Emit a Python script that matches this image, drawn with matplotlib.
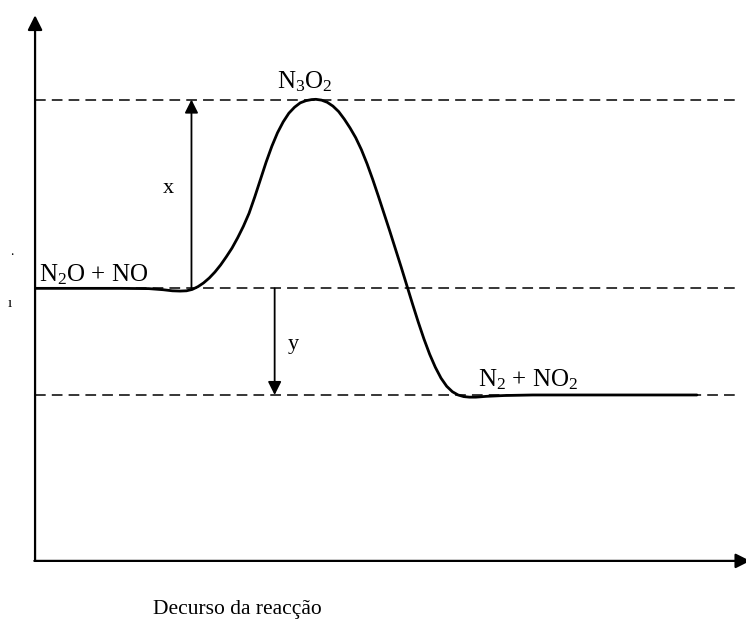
import matplotlib
matplotlib.use("Agg")
import matplotlib.pyplot as plt

plt.rcParams['font.family'] = ['Liberation Serif', 'DejaVu Serif']
plt.rcParams['mathtext.fontset'] = 'custom'
plt.rcParams['mathtext.rm'] = 'Liberation Serif'
plt.rcParams['mathtext.default'] = 'regular'

# reaction progress (arbitrary units) and energy (arbitrary units)
progress = [0, 12.0, 16.0, 18.0, 19.3, 20.4, 21.3, 22.1, 22.9, 23.7, 24.5, 25.3,
            26.1, 26.9, 27.7, 28.5, 29.3, 30.1, 30.9, 31.7, 32.5, 33.3, 34.1, 34.9,
            35.7, 36.5, 37.3, 38.1, 38.9, 39.5, 40.3, 41.1, 41.9, 42.7, 43.5, 44.3,
            45.1, 45.9, 46.7, 47.5, 48.3, 49.1, 49.9, 50.7, 51.5, 52.3, 53.1, 53.9,
            54.7, 55.5, 56.3, 57.1, 57.9, 58.7, 59.5, 60.3, 61.1, 62.0, 63.5, 66.0,
            70.0, 93.1]
energy = [50.1, 50.1, 50.05, 49.85, 49.65, 49.6, 49.65, 49.9, 50.4, 51.1, 52.0, 53.1,
          54.4, 55.9, 57.5, 59.4, 61.5, 63.9, 66.9, 70.1, 73.3, 76.2, 78.7, 80.7,
          82.3, 83.4, 84.2, 84.6, 84.8, 84.85, 84.7, 84.3, 83.6, 82.6, 81.2, 79.6,
          77.8, 75.6, 73.0, 70.1, 67.0, 63.8, 60.6, 57.3, 54.0, 50.6, 47.2, 43.9,
          40.8, 38.0, 35.6, 33.6, 32.1, 31.1, 30.5, 30.2, 30.1, 30.1, 30.25, 30.4,
          30.5, 30.5]

e_reactants = 50.1
e_transition = 84.8
e_products = 30.5
x_arrow_pos = 22.0
y_arrow_pos = 33.7

fig = plt.figure(figsize=(7.46, 6.26), dpi=100)
ax = fig.add_axes([0.047, 0.104, 0.953, 0.869])
ax.set_xlim(0, 100)
ax.set_ylim(0, 100)
ax.axis('off')

# axes with arrow heads
ax.annotate('', xy=(0, 100.3), xytext=(0, 0),
            arrowprops=dict(arrowstyle='-|>', color='black', lw=1.6, mutation_scale=22,
                            shrinkA=0, shrinkB=0),
            annotation_clip=False)
ax.annotate('', xy=(100.6, 0), xytext=(-0.1, 0),
            arrowprops=dict(arrowstyle='-|>', color='black', lw=1.6, mutation_scale=22,
                            shrinkA=0, shrinkB=0),
            annotation_clip=False)

# energy levels
for lvl in (e_transition, e_reactants, e_products):
    ax.plot([0, 99.2], [lvl, lvl], color='black', lw=1.1, ls=(0, (7, 4)))

ax.plot(progress, energy, color='black', lw=2.0, solid_capstyle='round',
        solid_joinstyle='round')

# x and y arrows
ax.annotate('', xy=(x_arrow_pos, e_transition), xytext=(x_arrow_pos, e_reactants),
            arrowprops=dict(arrowstyle='-|>', color='black', lw=1.3, mutation_scale=20,
                            shrinkA=0, shrinkB=0))
ax.annotate('', xy=(y_arrow_pos, e_products), xytext=(y_arrow_pos, e_reactants),
            arrowprops=dict(arrowstyle='-|>', color='black', lw=1.3, mutation_scale=20,
                            shrinkA=0, shrinkB=0))

fs = 18
ax.text(18.7, 68.4, 'x', fontsize=16, ha='center', va='center')
ax.text(36.3, 39.7, 'y', fontsize=16, ha='center', va='center')
ax.text(38.0, 85.8, 'N$_3$O$_2$', fontsize=fs, ha='center', va='bottom')
ax.text(0.6, 50.4, 'N$_2$O + NO', fontsize=fs, ha='left', va='bottom')
ax.text(62.3, 31.0, 'N$_2$ + NO$_2$', fontsize=fs, ha='left', va='bottom')
ax.text(28.4, -8.9, 'Decurso da reacção', fontsize=15.5, ha='center', va='center',
        clip_on=False)
ax.text(-3.2, 56.8, '.', fontsize=10, ha='center', va='center', clip_on=False)
ax.text(-3.5, 47.4, 'ı', fontsize=11, ha='center', va='center', clip_on=False)

fig.savefig('out.png', dpi=100)
